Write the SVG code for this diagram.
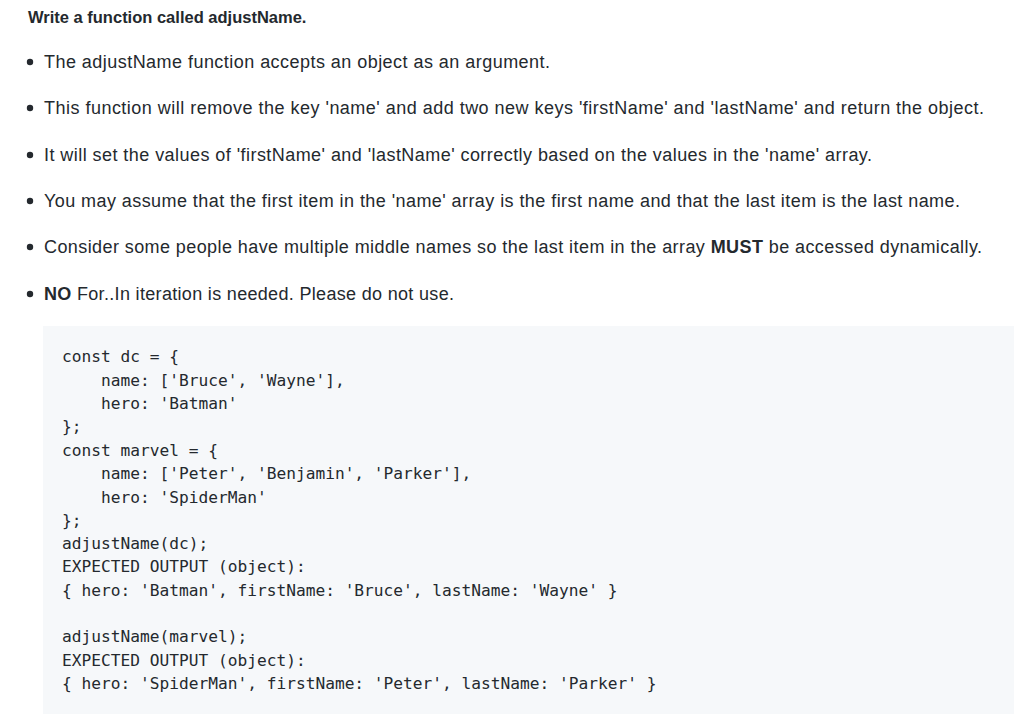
<svg xmlns="http://www.w3.org/2000/svg" width="1024" height="720" viewBox="0 0 1024 720">
<style>
.t{font-family:"Liberation Sans",Arial,sans-serif;font-size:18px;fill:#24292e}
.h{font-size:16.5px}
.b{font-weight:bold}
.c{font-family:"DejaVu Sans Mono",monospace;font-size:16.2px;fill:#24292e;white-space:pre}
</style>
<rect width="1024" height="720" fill="#fff"/>
<text class="t h b" x="28" y="23">Write a function called adjustName.</text>
<g fill="#24292e">
<circle cx="30" cy="62" r="3.2"/><circle cx="30" cy="108" r="3.2"/><circle cx="30" cy="155" r="3.2"/>
<circle cx="30" cy="201" r="3.2"/><circle cx="30" cy="247" r="3.2"/><circle cx="30" cy="294" r="3.2"/>
</g>
<text class="t" x="44" y="68" textLength="506" lengthAdjust="spacing">The adjustName function accepts an object as an argument.</text>
<text class="t" x="44" y="114" textLength="940" lengthAdjust="spacing">This function will remove the key 'name' and add two new keys 'firstName' and 'lastName' and return the object.</text>
<text class="t" x="44" y="161" textLength="828" lengthAdjust="spacing">It will set the values of 'firstName' and 'lastName' correctly based on the values in the 'name' array.</text>
<text class="t" x="44" y="207" textLength="916" lengthAdjust="spacing">You may assume that the first item in the 'name' array is the first name and that the last item is the last name.</text>
<text class="t" x="44" y="253" textLength="938" lengthAdjust="spacing">Consider some people have multiple middle names so the last item in the array <tspan class="b">MUST</tspan> be accessed dynamically.</text>
<text class="t" x="44" y="300" textLength="410" lengthAdjust="spacing"><tspan class="b">NO</tspan> For..In iteration is needed. Please do not use.</text>
<rect x="43" y="326" width="971" height="388" fill="#f6f8fa"/>
<g class="c">
<text class="c" x="62" y="362">const dc = {</text>
<text class="c" x="62" y="386">    name: ['Bruce', 'Wayne'],</text>
<text class="c" x="62" y="409">    hero: 'Batman'</text>
<text class="c" x="62" y="432">};</text>
<text class="c" x="62" y="456">const marvel = {</text>
<text class="c" x="62" y="479">    name: ['Peter', 'Benjamin', 'Parker'],</text>
<text class="c" x="62" y="503">    hero: 'SpiderMan'</text>
<text class="c" x="62" y="526">};</text>
<text class="c" x="62" y="549">adjustName(dc);</text>
<text class="c" x="62" y="572">EXPECTED OUTPUT (object):</text>
<text class="c" x="62" y="596">{ hero: 'Batman', firstName: 'Bruce', lastName: 'Wayne' }</text>
<text class="c" x="62" y="642">adjustName(marvel);</text>
<text class="c" x="62" y="666">EXPECTED OUTPUT (object):</text>
<text class="c" x="62" y="689">{ hero: 'SpiderMan', firstName: 'Peter', lastName: 'Parker' }</text>
</g>
</svg>
